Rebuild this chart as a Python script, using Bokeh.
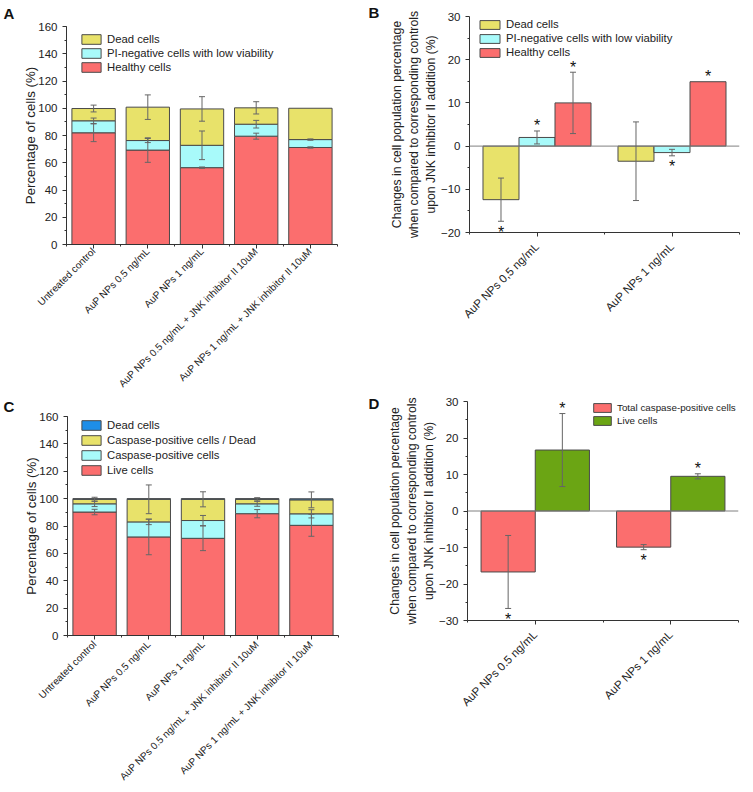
import math
from bokeh.plotting import figure
from bokeh.models import (ColumnDataSource, FixedTicker, Whisker, TeeHead, Legend,
                          LegendItem, Span)
from bokeh.layouts import column, row
from bokeh.embed import file_html
from bokeh.resources import INLINE
from bokeh.core.properties import value

FONT = "Liberation Sans"
YELLOW = "#E8E26A"
CYAN = "#A8FAFA"
RED = "#FB6E6E"
GREEN = "#6BA514"
BLUE = "#1E8EE8"
EDGE = "#4A4A4A"
ERR = "#666666"
AXIS = "#333333"

# ---------------- data ----------------
a_categories = ["Untreated control", "AuP NPs 0.5 ng/mL", "AuP NPs 1 ng/mL",
                "AuP NPs 0.5 ng/mL + JNK inhibitor II 10uM",
                "AuP NPs 1 ng/mL + JNK inhibitor II 10uM"]
a_healthy = [82.0, 69.3, 56.4, 79.5, 71.2]
a_pi_neg = [8.8, 7.0, 16.4, 8.8, 5.8]
a_dead = [9.0, 24.5, 26.7, 12.0, 23.0]
a_healthy_err = [6.5, 9.0, 0.5, 2.2, 0.5]
a_pi_neg_err = [2.0, 1.5, 10.5, 2.8, 0.5]
a_dead_err = [2.5, 9.0, 9.0, 4.5, 0.0]
a_series = ["Healthy cells", "PI-negative cells with low viability", "Dead cells"]

b_groups = ["AuP NPs 0,5 ng/mL", "AuP NPs 1 ng/mL"]
b_series = ["Dead cells", "PI-negative cells with low viability", "Healthy cells"]
b_dead = [-12.4, -3.5]
b_pi_neg = [2.0, -1.5]
b_healthy = [10.0, 14.9]
b_dead_err = [5.0, 9.1]
b_pi_neg_err = [1.5, 0.75]
b_healthy_err = [7.1, 0.0]
b_dead_sig = [True, False]
b_pi_neg_sig = [True, True]
b_healthy_sig = [True, True]

c_categories = a_categories
c_live = [90.2, 72.0, 71.0, 89.0, 80.5]
c_casp = [6.0, 11.0, 13.0, 7.2, 8.4]
c_casp_dead = [3.3, 16.5, 15.5, 3.3, 10.2]
c_dead = [0.5, 0.5, 0.5, 0.5, 0.8]
c_live_err = [2.0, 13.0, 9.0, 3.0, 8.0]
c_casp_err = [2.0, 2.0, 3.7, 1.8, 3.0]
c_casp_dead_err = [1.5, 10.5, 5.5, 1.2, 5.8]
c_series = ["Live cells", "Caspase-positive cells", "Caspase-positive cells / Dead", "Dead cells"]

d_groups = ["AuP NPs 0.5 ng/mL", "AuP NPs 1 ng/mL"]
d_series = ["Total caspase-positive cells", "Live cells"]
d_casp = [-16.7, -9.9]
d_live = [16.7, 9.5]
d_casp_err = [10.0, 0.7]
d_live_err = [10.0, 0.7]
d_casp_sig = [True, True]
d_live_sig = [True, True]

Y_LABEL_B = ("Changes in cell population percentage\n"
             "when compared to corresponding controls\n"
             "upon JNK inhibitor II addition (%)")


def make_fig(w, h, xr, yr, left, right, top, bottom):
    p = figure(width=w, height=h, x_range=xr, y_range=yr, output_backend="svg",
               toolbar_location=None, min_border_left=left, min_border_right=right,
               min_border_top=top, min_border_bottom=bottom)
    p.xgrid.visible = False
    p.ygrid.visible = False
    p.outline_line_color = None
    p.background_fill_color = "white"
    p.border_fill_color = "white"
    for ax in (p.xaxis[0], p.yaxis[0]):
        ax.axis_line_color = AXIS
        ax.major_tick_line_color = AXIS
        ax.minor_tick_line_color = AXIS
        ax.major_tick_in = 0
        ax.major_tick_out = 4
        ax.minor_tick_in = 0
        ax.minor_tick_out = 2
        ax.major_label_text_font = FONT
        ax.major_label_text_color = "#222222"
        ax.axis_label_text_font = FONT
        ax.axis_label_text_font_style = "normal"
        ax.axis_label_text_color = "#222222"
        ax.major_label_text_font_size = "11.5px"
    return p


def x_labels(p, xs, names, size, standoff):
    p.xaxis.major_label_overrides = {x: c for x, c in zip(xs, names)}
    p.xaxis.major_label_orientation = math.pi / 4
    p.xaxis.major_label_text_font_size = size
    p.xaxis.major_label_standoff = standoff


def add_whiskers(p, xs, centers, errs):
    keep = [i for i, e in enumerate(errs) if e > 0]
    src = ColumnDataSource(dict(
        x=[xs[i] for i in keep],
        upper=[centers[i] + errs[i] for i in keep],
        lower=[centers[i] - errs[i] for i in keep]))
    w = Whisker(source=src, base="x", upper="upper", lower="lower", level="overlay",
                line_color=ERR, line_width=1,
                upper_head=TeeHead(size=6, line_color=ERR, line_width=1),
                lower_head=TeeHead(size=6, line_color=ERR, line_width=1))
    p.add_layout(w)


def panel_letter(p, letter, offset, valign, standoff):
    p.title.text = letter
    p.title.align = "left"
    p.title.offset = offset
    p.title.vertical_align = valign
    p.title.standoff = standoff
    p.title.text_font = FONT
    p.title.text_font_size = "15px"
    p.title.text_font_style = "bold"
    p.title.text_color = "#111111"


def stacked_panel(w, h, left, right, top, bottom, categories, stacks, errs, colors,
                  names, legend_loc, label_h, xl_size, xl_standoff):
    xs = list(range(1, len(categories) + 1))
    p = make_fig(w, h, (0.5, len(categories) + 0.5), (0, 160), left, right, top, bottom)
    data = dict(x=xs)
    keys = []
    for i, s in enumerate(stacks):
        data["s%d" % i] = s
        keys.append("s%d" % i)
    src = ColumnDataSource(data)
    rs = p.vbar_stack(keys, x="x", width=0.8, source=src, fill_color=colors,
                      line_color=EDGE, line_width=1)
    cum = [0.0] * len(xs)
    for s, e in zip(stacks, errs):
        cum = [c + v for c, v in zip(cum, s)]
        if e is not None:
            add_whiskers(p, xs, cum, e)
    p.xaxis.ticker = FixedTicker(ticks=xs, minor_ticks=[x + 0.5 for x in [0] + xs])
    x_labels(p, xs, categories, xl_size, xl_standoff)
    p.yaxis.ticker = FixedTicker(ticks=list(range(0, 161, 20)),
                                 minor_ticks=list(range(0, 161, 10)))
    p.yaxis.axis_label = "Percentage of cells (%)"
    p.yaxis.axis_label_text_font_size = "13.3px"
    p.yaxis.axis_label_standoff = -3
    items = [LegendItem(label=n, renderers=[r]) for n, r in zip(names, rs)][::-1]
    leg = Legend(items=items, location=legend_loc, orientation="vertical",
                 glyph_width=24, glyph_height=12, label_height=label_h, spacing=0,
                 padding=0, margin=0, label_standoff=4, border_line_color=None,
                 background_fill_alpha=0, label_text_font=FONT,
                 label_text_font_size="11.3px", label_text_color="#222222")
    p.add_layout(leg)
    return p


def grouped_panel(w, h, left, right, top, bottom, groups, yr, yticks, series_vals,
                  series_errs, series_sig, colors, names, bar_w, legend_loc,
                  label_h, glyph_h, glyph_w, legend_fs):
    n = len(series_vals)
    gx = list(range(1, len(groups) + 1))
    p = make_fig(w, h, (0.5, len(groups) + 0.5), yr, left, right, top, bottom)
    p.add_layout(Span(location=0, dimension="width", line_color="#808080", line_width=1))
    rs = []
    star_x, star_y, star_off = [], [], []
    for k, (vals, errs, sig, col) in enumerate(zip(series_vals, series_errs, series_sig, colors)):
        xs = [g + (k - (n - 1) / 2) * bar_w for g in gx]
        src = ColumnDataSource(dict(x=xs, top=vals, bottom=[0] * len(vals)))
        r = p.vbar(x="x", top="top", bottom="bottom", width=bar_w, source=src,
                   fill_color=col, line_color=EDGE, line_width=1)
        rs.append(r)
        add_whiskers(p, xs, vals, errs)
        for x, v, e, s in zip(xs, vals, errs, sig):
            if s:
                star_x.append(x)
                if v >= 0:
                    star_y.append(v + e)
                    star_off.append(-5)
                else:
                    star_y.append(v - e)
                    star_off.append(11)
    for x, y, off in zip(star_x, star_y, star_off):
        p.text(x=[x], y=[y], text=["*"], text_font=value(FONT), text_font_size="16px",
               text_align="center", text_baseline="middle", y_offset=off,
               text_color="#111111")
    p.xaxis.ticker = FixedTicker(ticks=gx, minor_ticks=[x + 0.5 for x in [0] + gx])
    x_labels(p, gx, groups, "11.5px", 8)
    p.yaxis.ticker = FixedTicker(ticks=yticks, minor_ticks=[t + 5 for t in yticks[:-1]])
    p.yaxis.axis_label = Y_LABEL_B
    p.yaxis.axis_label_text_font_size = "12.2px"
    p.yaxis.axis_label_standoff = 0
    items = [LegendItem(label=nm, renderers=[r]) for nm, r in zip(names, rs)]
    leg = Legend(items=items, location=legend_loc, orientation="vertical",
                 glyph_width=glyph_w, glyph_height=glyph_h, label_height=label_h, spacing=0,
                 padding=0, margin=0, label_standoff=4, border_line_color=None,
                 background_fill_alpha=0, label_text_font=FONT,
                 label_text_font_size=legend_fs, label_text_color="#222222")
    p.add_layout(leg)
    return p


pA = stacked_panel(368, 396, 66, 31, 26, 150, a_categories,
                   [a_healthy, a_pi_neg, a_dead],
                   [a_healthy_err, a_pi_neg_err, a_dead_err],
                   [RED, CYAN, YELLOW], a_series, (13, 170), 14, "10px", 1)
panel_letter(pA, "A", -63, "top", 6)

pB = grouped_panel(385, 396, 101, 14, 16, 164, b_groups, (-20, 30),
                   list(range(-20, 31, 10)),
                   [b_dead, b_pi_neg, b_healthy],
                   [b_dead_err, b_pi_neg_err, b_healthy_err],
                   [b_dead_sig, b_pi_neg_sig, b_healthy_sig],
                   [YELLOW, CYAN, RED], b_series, 0.2667, (8, 173),
                   14, 11, 25, "11.3px")
panel_letter(pB, "B", -101, "bottom", -8)

pC = stacked_panel(368, 396, 67, 30, 20, 157, c_categories,
                   [c_live, c_casp, c_casp_dead, c_dead],
                   [c_live_err, c_casp_err, c_casp_dead_err, None],
                   [RED, CYAN, YELLOW, BLUE], c_series, (12, 158), 15, "10px", 3)
panel_letter(pC, "C", -64, "top", 0)

pD = grouped_panel(385, 396, 99, 15, 5, 172, d_groups, (-30, 30),
                   list(range(-30, 31, 10)),
                   [d_casp, d_live],
                   [d_casp_err, d_live_err],
                   [d_casp_sig, d_live_sig],
                   [RED, GREEN], d_series, 0.4, (124, 193), 13, 11, 22, "9.8px")
panel_letter(pD, "D", -99, "bottom", -20)

layout = row(column(column(pA, spacing=0), column(pC, spacing=0), spacing=0),
             column(column(pB, spacing=0), column(pD, spacing=0), spacing=0),
             spacing=0)
open("out.html", "w").write(file_html(layout, INLINE))
